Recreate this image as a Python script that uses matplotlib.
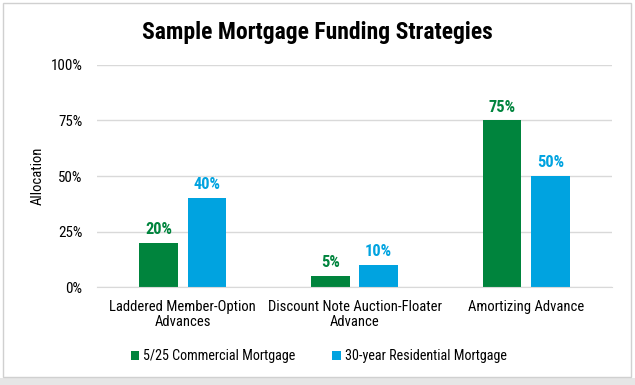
import matplotlib.pyplot as plt
import numpy as np
from matplotlib.patches import Rectangle
from matplotlib import font_manager

# pick a narrow sans font similar to Arial Narrow, if one is there
names = {f.name for f in font_manager.fontManager.ttflist}
font = 'Liberation Sans'
for cand in ['Liberation Sans Narrow', 'Arial Narrow', 'Roboto Condensed', 'Archivo Narrow']:
    if cand in names:
        font = cand
        break
plt.rcParams['font.family'] = [font, 'DejaVu Sans']

categories = ['Laddered Member-Option\nAdvances', 'Discount Note Auction-Floater\nAdvance', 'Amortizing Advance']
commercial = [20, 5, 75]
residential = [40, 10, 50]
series_names = ['5/25 Commercial Mortgage', '30-year Residential Mortgage']
yticks = [0, 25, 50, 75, 100]
green = '#00843D'
blue = '#00A3E0'

fig = plt.figure(figsize=(6.35, 3.85), dpi=100)
# outer frame + bottom shadow
fig.patches.append(Rectangle((0.0, 0.0), 1.0, 0.018, transform=fig.transFigure,
                             color='#E6E6E6', lw=0))
fig.patches.append(Rectangle((0.005, 0.02), 0.989, 0.972, transform=fig.transFigure,
                             fill=False, ec='#D0D0D0', lw=1))
ax = fig.add_axes([0.1528, 0.2545, 0.811, 0.5767])

x = np.arange(len(categories))
w = 0.224
off = 0.141
b1 = ax.bar(x - off, commercial, w, color=green, label=series_names[0])
b2 = ax.bar(x + off, residential, w, color=blue, label=series_names[1])

for bars, vals, c in [(b1, commercial, green), (b2, residential, blue)]:
    for b, v in zip(bars, vals):
        ax.text(b.get_x() + b.get_width() / 2, v + 2.7, f'{v}%', ha='center', va='bottom',
                color=c, fontsize=11.8, fontweight='bold')

ax.set_xlim(-0.5, 2.5)
ax.set_ylim(0, 100)
ax.set_yticks(yticks)
ax.set_yticklabels([f'{t}%' for t in yticks], fontsize=10.8)
ax.set_xticks(x)
ax.set_xticklabels(categories, fontsize=10.5, linespacing=1.15)
ax.tick_params(length=0, pad=10.5, axis='y')
ax.tick_params(length=0, pad=9, axis='x')
ax.grid(axis='y', color='#D9D9D9', lw=1)
ax.set_axisbelow(True)
for s in ['top', 'right', 'left']:
    ax.spines[s].set_visible(False)
ax.spines['bottom'].set_color('#D9D9D9')
ax.set_ylabel('Allocation', fontsize=10.5, labelpad=4.5)

fig.suptitle('Sample Mortgage Funding Strategies', fontsize=17, fontweight='bold', y=0.945)
fig.legend(loc='center', bbox_to_anchor=(0.502, 0.075), ncol=2, frameon=False, fontsize=10.2,
           handlelength=0.6, handleheight=0.6, handletextpad=0.3, columnspacing=2.6)

fig.savefig('out.png', dpi=100)
